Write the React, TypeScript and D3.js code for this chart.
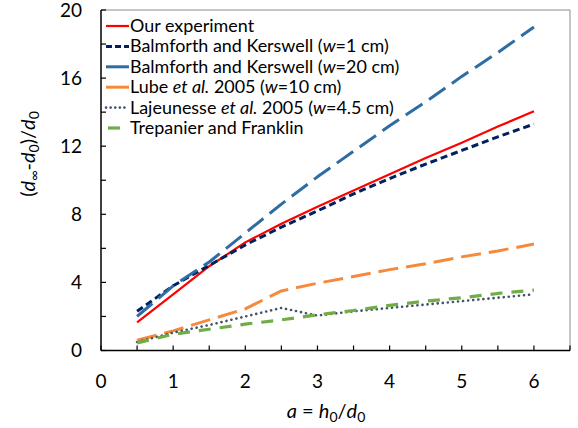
import React from "react";
import * as d3 from "d3";

// aspect ratio a = h0/d0
const aValues = [0.5, 1, 1.5, 2, 2.5, 3, 3.5, 4, 4.5, 5, 5.5, 6];

const ourExperiment = [1.65, 3.3, 4.95, 6.35, 7.45, 8.45, 9.4, 10.35, 11.3, 12.2, 13.15, 14.05];
const balmforth1 = [2.3, 3.8, 5.0, 6.2, 7.25, 8.2, 9.2, 10.1, 10.95, 11.75, 12.55, 13.3];
const balmforth20 = [2.0, 3.8, 5.2, 6.9, 8.6, 10.2, 11.7, 13.2, 14.6, 16.1, 17.5, 19.0];
const lube = [0.6, 1.15, 1.8, 2.45, 3.5, 3.95, 4.35, 4.75, 5.1, 5.5, 5.85, 6.25];
const lajeunesse = [0.5, 1.05, 1.5, 2.0, 2.5, 2.05, 2.3, 2.5, 2.7, 2.9, 3.1, 3.3];
const trepanier = [0.45, 0.95, 1.25, 1.55, 1.8, 2.1, 2.35, 2.65, 2.9, 3.1, 3.35, 3.55];

const xTickLabels = [0, 1, 2, 3, 4, 5, 6];
const yTickLabels = [0, 4, 8, 12, 16, 20];

const series = [
  { key: "our", values: ourExperiment, color: "#ff0000", dash: "none", width: 2.2, cap: "butt" },
  { key: "b1", values: balmforth1, color: "#002060", dash: "7 4", width: 3, cap: "butt" },
  { key: "b20", values: balmforth20, color: "#2e6da4", dash: "20 8", width: 3, cap: "butt" },
  { key: "lube", values: lube, color: "#f58a3c", dash: "20 8", width: 3, cap: "butt" },
  { key: "laj", values: lajeunesse, color: "#44546a", dash: "0.1 5", width: 2.6, cap: "round" },
  { key: "trep", values: trepanier, color: "#70ad47", dash: "12 9", width: 3.2, cap: "butt" },
];

const font = "Lato, 'Open Sans', sans-serif";

const App = () => {
  const left = 101;
  const right = 570;
  const top = 10;
  const bottom = 350.5;

  const x = d3.scaleLinear().domain([0, 6.5]).range([left, right]);
  const y = d3.scaleLinear().domain([0, 20]).range([bottom, top]);

  const line = d3
    .line<number>()
    .x((_, i) => x(aValues[i]))
    .y((v) => y(v));

  const xMinor = d3.range(0, 6.51, 0.5);
  const yMinor = d3.range(0, 20.01, 2);

  const legendRows = [
    { s: series[0], label: <tspan>Our experiment</tspan> },
    {
      s: series[1],
      label: (
        <>
          <tspan>Balmforth and Kerswell (</tspan>
          <tspan fontStyle="italic">w</tspan>
          <tspan>=1 cm)</tspan>
        </>
      ),
    },
    {
      s: series[2],
      label: (
        <>
          <tspan>Balmforth and Kerswell (</tspan>
          <tspan fontStyle="italic">w</tspan>
          <tspan>=20 cm)</tspan>
        </>
      ),
    },
    {
      s: series[3],
      label: (
        <>
          <tspan>Lube </tspan>
          <tspan fontStyle="italic">et al.</tspan>
          <tspan> 2005 (</tspan>
          <tspan fontStyle="italic">w</tspan>
          <tspan>=10 cm)</tspan>
        </>
      ),
    },
    {
      s: series[4],
      label: (
        <>
          <tspan>Lajeunesse </tspan>
          <tspan fontStyle="italic">et al.</tspan>
          <tspan> 2005 (</tspan>
          <tspan fontStyle="italic">w</tspan>
          <tspan>=4.5 cm)</tspan>
        </>
      ),
    },
    { s: series[5], label: <tspan>Trepanier and Franklin</tspan> },
  ];

  return (
    <svg
      width={578}
      height={428}
      style={{ position: "absolute", left: 0, top: 0, background: "#fff" }}
      fontFamily={font}
    >
      {/* frame */}
      <line x1={left} x2={right} y1={top} y2={top} stroke="#8c8c8c" strokeWidth={1} />
      <line x1={right} x2={right} y1={top} y2={bottom} stroke="#8c8c8c" strokeWidth={1} />

      {/* series */}
      {series.map((s) => (
        <path
          key={s.key}
          d={line(s.values) || ""}
          fill="none"
          stroke={s.color}
          strokeWidth={s.width}
          strokeDasharray={s.dash}
          strokeLinecap={s.cap as any}
          strokeLinejoin="round"
        />
      ))}

      {/* axes */}
      <line x1={left} x2={left} y1={top} y2={bottom} stroke="#000" strokeWidth={1.5} />
      <line x1={left} x2={right} y1={bottom} y2={bottom} stroke="#000" strokeWidth={1.5} />
      {xMinor.map((t) => (
        <line key={"xt" + t} x1={x(t)} x2={x(t)} y1={bottom} y2={bottom - 5} stroke="#000" strokeWidth={1.2} />
      ))}
      {yMinor.map((t) => (
        <line key={"yt" + t} x1={left} x2={left + 5} y1={y(t)} y2={y(t)} stroke="#000" strokeWidth={1.2} />
      ))}
      {xTickLabels.map((t) => (
        <text key={"xl" + t} x={x(t)} y={388} textAnchor="middle" fontSize={19} fill="#000">
          {t}
        </text>
      ))}
      {yTickLabels.map((t) => (
        <text key={"yl" + t} x={82} y={y(t) + 6.5} textAnchor="end" fontSize={19} fill="#000">
          {t}
        </text>
      ))}

      {/* axis titles */}
      <text x={326} y={418} textAnchor="middle" fontSize={20} fill="#000">
        <tspan fontStyle="italic">a</tspan>
        <tspan> = </tspan>
        <tspan fontStyle="italic">h</tspan>
        <tspan fontSize={14} dy={4}>0</tspan>
        <tspan dy={-4}>/</tspan>
        <tspan fontStyle="italic">d</tspan>
        <tspan fontSize={14} dy={4}>0</tspan>
      </text>
      <text transform="translate(35,154) rotate(-90)" textAnchor="middle" fontSize={20} fill="#000">
        <tspan>(</tspan>
        <tspan fontStyle="italic">d</tspan>
        <tspan fontSize={14} dy={4}>∞</tspan>
        <tspan dy={-4}>-</tspan>
        <tspan fontStyle="italic">d</tspan>
        <tspan fontSize={14} dy={4}>0</tspan>
        <tspan dy={-4}>)/</tspan>
        <tspan fontStyle="italic">d</tspan>
        <tspan fontSize={14} dy={4}>0</tspan>
      </text>

      {/* legend */}
      {legendRows.map((r, i) => {
        const yy = 26 + i * 20.4;
        return (
          <g key={"lg" + i}>
            <line
              x1={r.s.key === "trep" ? 108 : 106}
              x2={r.s.key === "trep" ? 120 : 129}
              y1={yy}
              y2={yy}
              stroke={r.s.color}
              strokeWidth={r.s.width}
              strokeDasharray={r.s.key === "b1" ? "6 3" : r.s.key === "laj" ? "0.1 4.5" : "none"}
              strokeLinecap={r.s.cap as any}
            />
            <text transform={`translate(130,${yy + 6}) scale(1.055,1)`} fontSize={17} fill="#000">
              {r.label}
            </text>
          </g>
        );
      })}
    </svg>
  );
};

export default App;
